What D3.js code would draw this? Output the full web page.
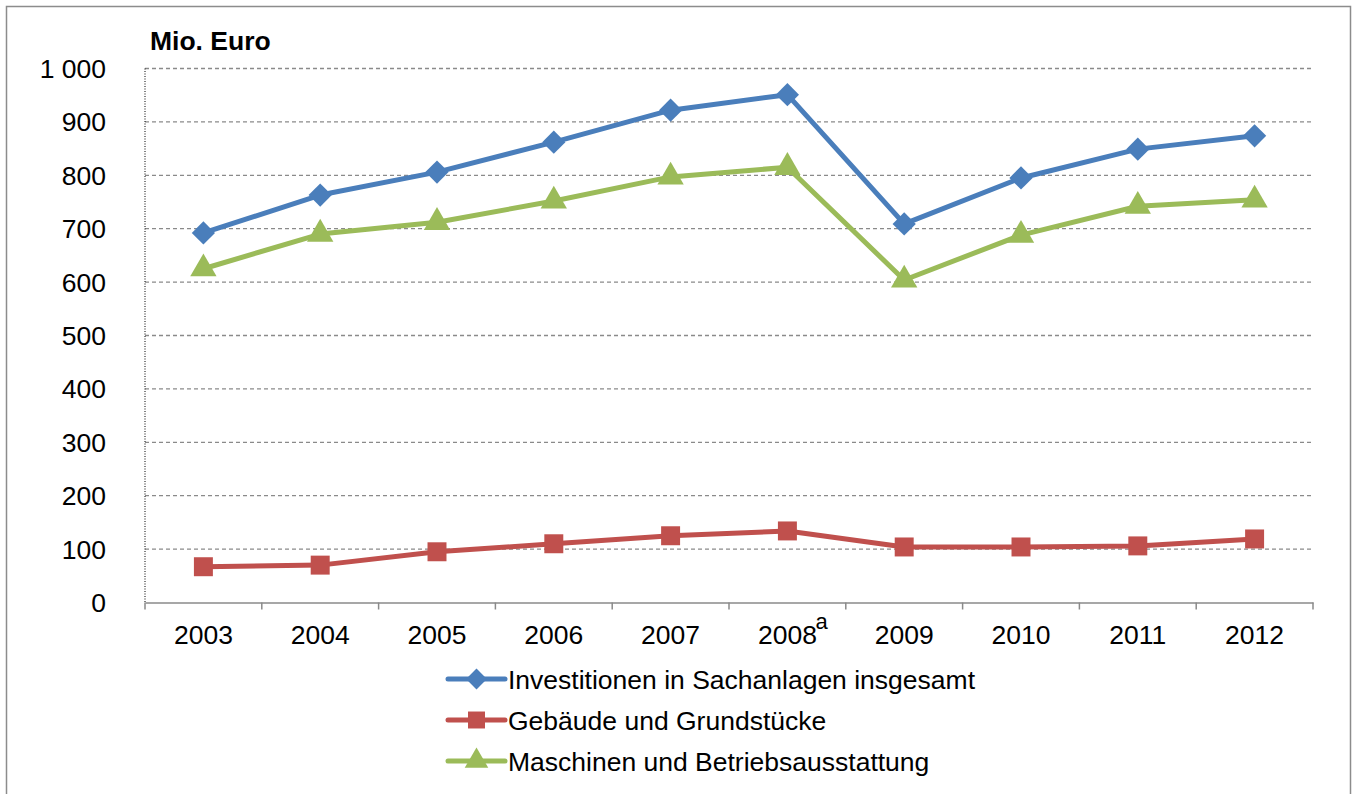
<!DOCTYPE html>
<html>
<head>
<meta charset="utf-8">
<script src="https://cdn.jsdelivr.net/npm/d3@7"></script>
<style>
	body { margin: 0; background: #fff; }
	text { font-family: "Liberation Sans", Arial, sans-serif; }
</style>
</head>
<body>
<div id="chart-area"></div>
<script>
// data
const years = ["2003", "2004", "2005", "2006", "2007", "2008", "2009", "2010", "2011", "2012"]
const insgesamt = [692, 763, 806, 862, 922, 951, 709, 795, 849, 874]
const gebaeude = [67, 70, 95, 110, 125, 134, 104, 104, 106, 119]
const maschinen = [625, 690, 712, 752, 797, 815, 604, 688, 742, 754]
const yTicks = [0, 100, 200, 300, 400, 500, 600, 700, 800, 900, 1000]

const series = [
	{name: "Investitionen in Sachanlagen insgesamt", values: insgesamt, color: "#4A7EBB", kind: "diamond"},
	{name: "Gebäude und Grundstücke", values: gebaeude, color: "#C0504D", kind: "square"},
	{name: "Maschinen und Betriebsausstattung", values: maschinen, color: "#9BBB59", kind: "triangle"}
]

const W = 1354, H = 794
const MARGIN = {LEFT: 145, RIGHT: 41, TOP: 68.5, BOTTOM: 191.5}
const WIDTH = W - MARGIN.LEFT - MARGIN.RIGHT
const HEIGHT = H - MARGIN.TOP - MARGIN.BOTTOM
const FONT = "26.5px"

const svg = d3.select("#chart-area").append("svg")
	.attr("width", W)
	.attr("height", H)

// outer frame
svg.append("rect")
	.attr("x", 6.5).attr("y", 6.5)
	.attr("width", 1344).attr("height", 800)
	.attr("fill", "none")
	.attr("stroke", "#8c8c8c")
	.attr("stroke-width", 1.5)

const g = svg.append("g")
	.attr("transform", `translate(${MARGIN.LEFT}, ${MARGIN.TOP})`)

const x = d3.scaleBand()
	.domain(years)
	.range([0, WIDTH])

const y = d3.scaleLinear()
	.domain([0, 1000])
	.range([HEIGHT, 0])

// gridlines
g.selectAll(".grid")
	.data(yTicks.filter(d => d > 0))
	.enter().append("line")
	.attr("x1", 0).attr("x2", WIDTH)
	.attr("y1", d => y(d)).attr("y2", d => y(d))
	.attr("stroke", "#8a8a8a")
	.attr("stroke-width", 1.3)
	.attr("stroke-dasharray", "4,3")

// y axis (dotted)
g.append("line")
	.attr("x1", 0).attr("x2", 0)
	.attr("y1", 0).attr("y2", HEIGHT)
	.attr("stroke", "#000")
	.attr("stroke-width", 1)
	.attr("stroke-dasharray", "1,1.5")

g.selectAll(".ylabel")
	.data(yTicks)
	.enter().append("text")
	.attr("x", -39)
	.attr("y", d => y(d))
	.attr("dy", "0.36em")
	.attr("text-anchor", "end")
	.attr("font-size", FONT)
	.text(d => d3.format(",")(d).replace(",", " "))

// x axis
const xAxisCall = d3.axisBottom(x)
	.tickSize(0)
	.tickFormat("")
const xAxis = g.append("g")
	.attr("transform", `translate(0, ${HEIGHT})`)
	.call(xAxisCall)
xAxis.select(".domain").attr("stroke", "#8a8a8a").attr("stroke-width", 1.5)

const bounds = years.map(d => x(d)).concat([WIDTH])
g.selectAll(".xtick")
	.data(bounds)
	.enter().append("line")
	.attr("x1", d => d).attr("x2", d => d)
	.attr("y1", HEIGHT).attr("y2", HEIGHT + 7)
	.attr("stroke", "#8a8a8a")
	.attr("stroke-width", 1.5)

g.selectAll(".xlabel")
	.data(years)
	.enter().append("text")
	.attr("x", d => x(d) + x.bandwidth() / 2)
	.attr("y", HEIGHT + 41)
	.attr("text-anchor", "middle")
	.attr("font-size", FONT)
	.text(d => d)

// footnote mark on 2008
g.append("text")
	.attr("x", x("2008") + x.bandwidth() / 2 + 28)
	.attr("y", HEIGHT + 26)
	.attr("font-size", "22px")
	.text("a")

// title
svg.append("text")
	.attr("x", 150)
	.attr("y", 50)
	.attr("font-size", FONT)
	.attr("font-weight", "bold")
	.text("Mio. Euro")

// marker shapes
function marker(kind, scale) {
	if (kind === "diamond") return {d: d3.symbol().type(d3.symbolSquare).size(270 * scale)(), rot: 45}
	if (kind === "square") return {d: d3.symbol().type(d3.symbolSquare).size(360 * scale)(), rot: 0}
	return {d: d3.symbol().type(d3.symbolTriangle).size(300 * scale)(), rot: 0}
}

// lines and markers
const line = d3.line()
	.x((d, i) => x(years[i]) + x.bandwidth() / 2)
	.y(d => y(d))

series.forEach(s => {
	g.append("path")
		.attr("d", line(s.values))
		.attr("fill", "none")
		.attr("stroke", s.color)
		.attr("stroke-width", 5)
		.attr("stroke-linejoin", "round")

	const m = marker(s.kind, 1)
	g.selectAll(null)
		.data(s.values)
		.enter().append("path")
		.attr("d", m.d)
		.attr("transform", (d, i) => `translate(${x(years[i]) + x.bandwidth() / 2}, ${y(d)}) rotate(${m.rot})`)
		.attr("fill", s.color)
})

// legend
const legend = svg.append("g")
series.forEach((s, i) => {
	const ly = 679 + i * 41
	legend.append("line")
		.attr("x1", 448).attr("x2", 505)
		.attr("y1", ly).attr("y2", ly)
		.attr("stroke", s.color)
		.attr("stroke-width", 5)
		.attr("stroke-linecap", "round")
	const m = marker(s.kind, 0.8)
	legend.append("path")
		.attr("d", m.d)
		.attr("transform", `translate(476.5, ${ly}) rotate(${m.rot})`)
		.attr("fill", s.color)
	legend.append("text")
		.attr("x", 508)
		.attr("y", ly)
		.attr("dy", "0.36em")
		.attr("font-size", FONT)
		.text(s.name)
})
</script>
</body>
</html>
